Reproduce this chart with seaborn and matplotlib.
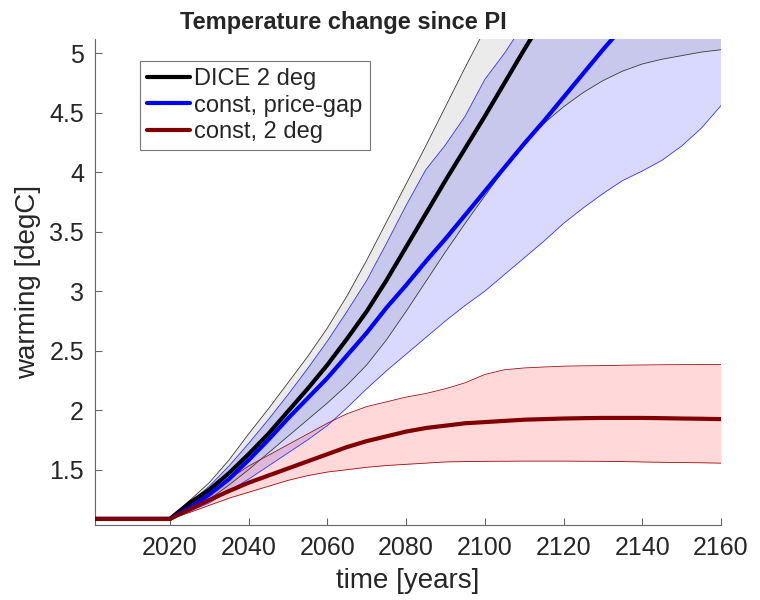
import numpy as np
import pandas as pd
import matplotlib
matplotlib.use("Agg")
import matplotlib.pyplot as plt
import seaborn as sns

# Simulation years (flat history, then scenario projections every 5 years)
years = [2001, 2020, 2025, 2030, 2035, 2040, 2045, 2050, 2055, 2060, 2065,
         2070, 2075, 2080, 2085, 2090, 2095, 2100, 2105, 2110, 2115, 2120,
         2125, 2130, 2135, 2140, 2145, 2150, 2155, 2160]

# DICE 2 deg: median and 5-95% range
dice_med = [1.086, 1.086, 1.22, 1.33, 1.47, 1.63, 1.80, 1.99, 2.18, 2.38,
            2.60, 2.83, 3.09, 3.37, 3.65, 3.93, 4.20, 4.47, 4.75, 5.03,
            5.30, 5.55, 5.80, 6.00, 6.20, 6.40, 6.60, 6.80, 6.95, 7.10]
dice_hi = [1.086, 1.086, 1.24, 1.39, 1.58, 1.80, 2.01, 2.23, 2.45, 2.69,
           2.96, 3.26, 3.58, 3.90, 4.22, 4.55, 4.88, 5.20, 5.50, 5.80,
           6.05, 6.30, 6.55, 6.80, 7.00, 7.20, 7.40, 7.60, 7.80, 8.00]
dice_lo = [1.086, 1.086, 1.17, 1.25, 1.37, 1.50, 1.64, 1.78, 1.92, 2.06,
           2.21, 2.38, 2.59, 2.83, 3.08, 3.33, 3.57, 3.80, 4.03, 4.24,
           4.41, 4.55, 4.67, 4.77, 4.85, 4.91, 4.95, 4.98, 5.01, 5.03]

# Constant price-gap policy
gap_med = [1.086, 1.086, 1.18, 1.29, 1.42, 1.58, 1.75, 1.93, 2.10, 2.27,
           2.46, 2.65, 2.86, 3.05, 3.25, 3.44, 3.64, 3.84, 4.04, 4.24,
           4.43, 4.63, 4.83, 5.03, 5.22, 5.42, 5.60, 5.80, 6.00, 6.20]
gap_hi = [1.086, 1.086, 1.22, 1.36, 1.53, 1.72, 1.92, 2.13, 2.35, 2.58,
          2.83, 3.09, 3.40, 3.72, 4.02, 4.23, 4.47, 4.78, 5.00, 5.25,
          5.50, 5.70, 5.90, 6.10, 6.30, 6.50, 6.70, 6.90, 7.10, 7.30]
gap_lo = [1.086, 1.086, 1.15, 1.22, 1.32, 1.42, 1.53, 1.64, 1.75, 1.87,
          2.02, 2.18, 2.33, 2.47, 2.61, 2.75, 2.88, 3.00, 3.14, 3.28,
          3.42, 3.57, 3.70, 3.82, 3.93, 4.01, 4.10, 4.22, 4.37, 4.56]

# Constant 2 deg policy
c2_med = [1.086, 1.086, 1.165, 1.245, 1.32, 1.39, 1.45, 1.51, 1.57, 1.63,
          1.69, 1.74, 1.78, 1.82, 1.85, 1.87, 1.89, 1.90, 1.91, 1.92,
          1.925, 1.93, 1.933, 1.935, 1.935, 1.935, 1.933, 1.93, 1.928, 1.925]
c2_hi = [1.086, 1.086, 1.20, 1.31, 1.42, 1.53, 1.62, 1.71, 1.80, 1.89,
         1.97, 2.03, 2.07, 2.11, 2.14, 2.18, 2.23, 2.30, 2.34, 2.355,
         2.363, 2.37, 2.373, 2.375, 2.378, 2.38, 2.382, 2.383, 2.384, 2.385]
c2_lo = [1.086, 1.086, 1.14, 1.20, 1.26, 1.31, 1.36, 1.41, 1.45, 1.48,
         1.50, 1.52, 1.535, 1.545, 1.555, 1.565, 1.568, 1.57, 1.571, 1.572,
         1.572, 1.572, 1.571, 1.57, 1.568, 1.565, 1.562, 1.56, 1.558, 1.555]

labels = ["DICE 2 deg", "const, price-gap", "const, 2 deg"]
line_colors = ["#000000", "#0000ff", "#800000"]
edge_colors = ["#3a3a3a", "#3333ff", "#a01010"]
fill_specs = [("#000000", 0.08), ("#0000ff", 0.15), ("#ff0000", 0.15)]
y_ticks = [1.5, 2, 2.5, 3, 3.5, 4, 4.5, 5]
x_ticks = [2020, 2040, 2060, 2080, 2100, 2120, 2140, 2160]

sns.set_style("white", {"xtick.bottom": True, "ytick.left": True})
plt.rcParams["font.family"] = ["Liberation Sans", "DejaVu Sans"]

df = pd.DataFrame({
    "year": years * 3,
    "warming": dice_med + gap_med + c2_med,
    "scenario": [labels[0]] * len(years) + [labels[1]] * len(years)
                + [labels[2]] * len(years),
})

fig = plt.figure(figsize=(7.6, 6.0), dpi=100)
ax = fig.add_axes([95 / 760, 1 - 525 / 600, 626 / 760, 486 / 600])

bands = [(dice_lo, dice_hi), (gap_lo, gap_hi), (c2_lo, c2_hi)]
for (lo, hi), (fc, a), ec in zip(bands, fill_specs, edge_colors):
    ax.fill_between(years, lo, hi, color=fc, alpha=a, linewidth=0, zorder=1)
    ax.plot(years, lo, color=ec, lw=0.6, zorder=2)
    ax.plot(years, hi, color=ec, lw=0.6, zorder=2)

sns.lineplot(data=df, x="year", y="warming", hue="scenario",
             hue_order=labels, palette=line_colors, linewidth=3,
             ax=ax, zorder=3)

ax.set_xlim(2001, 2160)
ax.set_ylim(1.035, 5.12)
ax.set_xticks(x_ticks)
ax.set_yticks(y_ticks)
ax.set_yticklabels([f"{v:g}" for v in y_ticks])
ax.tick_params(direction="in", length=5, width=0.8, colors="#666666",
               labelcolor="#262626", labelsize=18, pad=8)
for side in ["top", "right"]:
    ax.spines[side].set_visible(False)
for side in ["left", "bottom"]:
    ax.spines[side].set_color("#666666")
    ax.spines[side].set_linewidth(0.8)

ax.set_xlabel("time [years]", fontsize=20, color="#262626", labelpad=6)
ax.set_ylabel("warming [degC]", fontsize=20, color="#262626", labelpad=6)

fig.text(343 / 760, 1 - 29 / 600, "Temperature change since PI",
         fontsize=17, fontweight="bold", ha="center", va="baseline")

leg = ax.legend(loc="upper left", bbox_to_anchor=(0.072, 0.955),
                borderaxespad=0, fontsize=17, handlelength=1.8,
                handletextpad=0.2, labelspacing=0.2, frameon=True,
                fancybox=False, framealpha=1, borderpad=0.3)
leg.get_frame().set_edgecolor("#777777")
leg.get_frame().set_linewidth(0.8)
for h in leg.get_lines():
    h.set_linewidth(3)

fig.savefig("out.png", dpi=100)
